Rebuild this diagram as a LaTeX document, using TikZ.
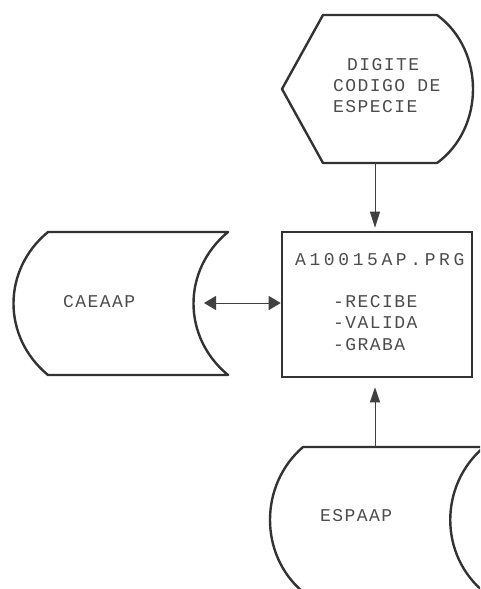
\documentclass[tikz,border=0pt]{standalone}
\usepackage{fontspec}
\newfontfamily\dm[LetterSpace=8]{Liberation Mono}
\newfontfamily\dmw[LetterSpace=20]{Liberation Mono}
\usetikzlibrary{arrows.meta}
\begin{document}
\begin{tikzpicture}[x=1pt,y=-1pt,
  shapeline/.style={draw=black!80, line width=2.4pt, line join=round},
  conn/.style={draw=black!75, line width=1pt},
  lbl/.style={font=\dm\fontsize{18}{21}\selectfont, inner sep=0pt, anchor=west, text=black!70},
  lblw/.style={font=\dmw\fontsize{18}{21}\selectfont, inner sep=0pt, anchor=west, text=black!70},
  tip/.style={Triangle[length=#1]}]
\useasboundingbox (0,0) rectangle (480,589);
\clip (0,0) rectangle (480,589);
% display symbol
\draw[shapeline] (323,15) -- (437,15) .. controls (485,50) and (485,128) .. (437,163) -- (323,163) -- (282,89) -- cycle;
\node[lbl] (t1) at (347,65) {DIGITE};
\node[lbl] (t2) at (333,86) {CODIGO DE};
\node[lbl] (t3) at (333,107) {ESPECIE};
% process box
\node[draw=black!80, line width=2.6pt, minimum width=190pt, minimum height=145pt, inner sep=0pt] (prg) at (377,304.5) {};
\node[lblw] (p0) at (295,260) {A10015AP.PRG};
\node[lbl] (p1) at (333,302) {-RECIBE};
\node[lbl] (p2) at (333,323) {-VALIDA};
\node[lbl] (p3) at (333,345) {-GRABA};
% CAEAAP storage
\draw[shapeline] (48,232) -- (228,232) .. controls (182,270) and (182,337) .. (228,375) -- (48,375) .. controls (2,337) and (2,270) .. (48,232) -- cycle;
\node[lbl] (cae) at (63,302) {CAEAAP};
% ESPAAP storage
\draw[shapeline] (303,447) -- (484,447) .. controls (439,485) and (439,555) .. (484,592) -- (303,592) .. controls (259,555) and (259,485) .. (303,447) -- cycle;
\node[lbl] (esp) at (320,516) {ESPAAP};
% connectors
\coordinate (dispB) at (375,163);
\coordinate (caeR) at (204,303);
\coordinate (espT) at (375,447);
\draw[conn, -{Triangle[length=16pt,width=10pt]}, shorten >=3pt] (dispB) -- (dispB |- prg.north);
\draw[conn, {Triangle[length=12pt,width=14pt]}-{Triangle[length=12pt,width=14pt]}] (caeR) -- (caeR -| prg.west);
\draw[conn, -{Triangle[length=15pt,width=10pt]}, shorten >=9pt] (espT) -- (espT |- prg.south);
\end{tikzpicture}
\end{document}
